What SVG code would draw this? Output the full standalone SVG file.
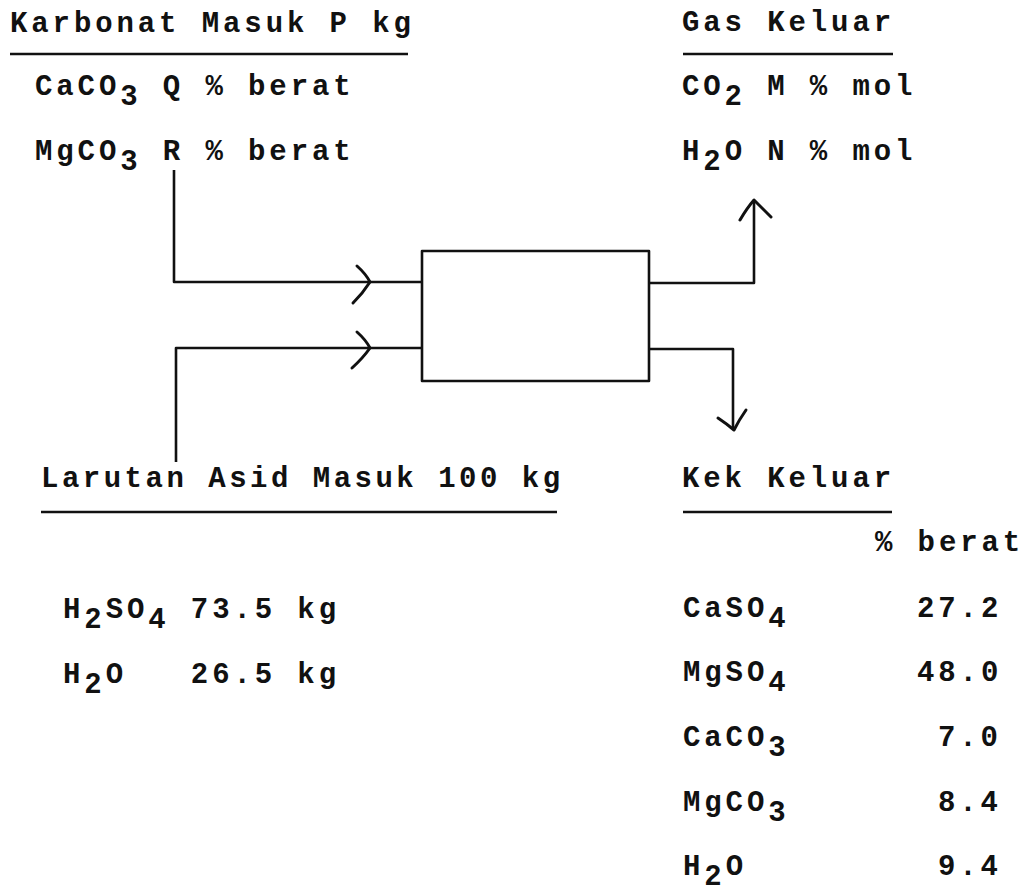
<svg xmlns="http://www.w3.org/2000/svg" width="1027" height="893" viewBox="0 0 1027 893">
<style>
text{font-family:"Liberation Mono","DejaVu Sans Mono",monospace;font-size:29px;font-weight:bold;fill:#111;letter-spacing:3.9px}
.rule{stroke:#111;stroke-width:2.6;fill:none}
.ln{stroke:#111;stroke-width:2.6;fill:none;stroke-linejoin:round}
.head{stroke:#111;stroke-width:3;fill:none;stroke-linecap:round;stroke-linejoin:round}
</style>
<rect width="1027" height="893" fill="#fff"/>
<g id="connectors">
<path class="ln" d="M174,170 V282 H422"/>
<path class="head" d="M357,266 Q366,274 370,282 Q363,293 353,303"/>
<path class="ln" d="M176,462 V348 H422"/>
<path class="head" d="M357,332 Q366,340 370,348 Q363,358 352,368"/>
<path class="ln" d="M649,283 H754 V202"/>
<path class="head" d="M740,220 Q747,208 754,200 Q762,208 771,217"/>
<path class="ln" d="M649,349 H733 V428"/>
<path class="head" d="M718,418 Q727,424 734,430 Q739,420 746,410"/>
</g>
<g id="reactor">
<rect class="ln" x="422" y="251" width="227" height="130"/>
</g>
<g id="karbonat-masuk">
<text x="10" y="32">Karbonat Masuk P kg</text>
<line class="rule" x1="10" y1="54" x2="408" y2="54"/>
<text x="35" y="95">CaCO<tspan dy="10">3</tspan><tspan dy="-10"> Q % berat</tspan></text>
<text x="35" y="160">MgCO<tspan dy="10">3</tspan><tspan dy="-10"> R % berat</tspan></text>
</g>
<g id="gas-keluar">
<text x="682" y="31">Gas Keluar</text>
<line class="rule" x1="683" y1="54" x2="893" y2="54"/>
<text x="682" y="95">CO<tspan dy="10">2</tspan><tspan dy="-10"> M % mol</tspan></text>
<text x="682" y="160">H<tspan dy="10">2</tspan><tspan dy="-10">O N % mol</tspan></text>
</g>
<g id="larutan-asid-masuk">
<text x="41" y="487" style="letter-spacing:3.5px">Larutan Asid Masuk 100 kg</text>
<line class="rule" x1="41" y1="512" x2="557" y2="512"/>
<text x="63" y="618">H<tspan dy="10">2</tspan><tspan dy="-10">SO</tspan><tspan dy="10">4</tspan><tspan dy="-10"> 73.5 kg</tspan></text>
<text x="63" y="683" xml:space="preserve">H<tspan dy="10">2</tspan><tspan dy="-10">O   26.5 kg</tspan></text>
</g>
<g id="kek-keluar">
<text x="682" y="487">Kek Keluar</text>
<line class="rule" x1="683" y1="512" x2="892" y2="512"/>
<text x="875" y="551">% berat</text>
<text x="683" y="617">CaSO<tspan dy="10">4</tspan></text>
<text x="917" y="617">27.2</text>
<text x="683" y="681">MgSO<tspan dy="10">4</tspan></text>
<text x="917" y="681">48.0</text>
<text x="683" y="746">CaCO<tspan dy="10">3</tspan></text>
<text x="938" y="746">7.0</text>
<text x="683" y="811">MgCO<tspan dy="10">3</tspan></text>
<text x="938" y="811">8.4</text>
<text x="683" y="875">H<tspan dy="10">2</tspan><tspan dy="-10">O</tspan></text>
<text x="938" y="875">9.4</text>
</g>
</svg>
